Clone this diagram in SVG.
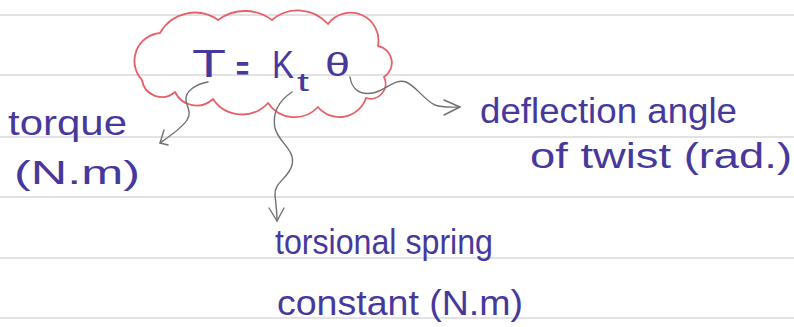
<svg xmlns="http://www.w3.org/2000/svg" width="794" height="327" viewBox="0 0 794 327">
  <defs>
    <style>
      .rule { stroke: #d9d9de; stroke-width: 1.5; }
      .cloud { fill: none; stroke: #e6606a; stroke-width: 1.8; stroke-linejoin: round; }
      .ink { fill: #47399c; font-family: "Liberation Sans", Arial, sans-serif; }
      .lbl { font-size: 35px; }
      .conn { fill: none; stroke: #707070; stroke-width: 1.4; stroke-linecap: round; stroke-linejoin: round; }
    </style>
  </defs>
  <rect width="794" height="327" fill="#ffffff"/>
  <g id="paper-lines">
    <line class="rule" x1="0" y1="15" x2="794" y2="15"/>
    <line class="rule" x1="0" y1="75" x2="794" y2="75"/>
    <line class="rule" x1="0" y1="137" x2="794" y2="137"/>
    <line class="rule" x1="0" y1="197" x2="794" y2="197"/>
    <line class="rule" x1="0" y1="258" x2="794" y2="258"/>
    <line class="rule" x1="0" y1="318" x2="794" y2="318"/>
  </g>
  <g id="node-equation">
    <path class="cloud" d="M160,33 A40 40 0 0 1 218,20 A45 45 0 0 1 272,20 A40 40 0 0 1 328,24 A28 28 0 0 1 378,46 A17 17 0 0 1 384,77 A15 15 0 0 1 366,98 A28 28 0 0 1 318,107 A32 32 0 0 1 268,103 A35 35 0 0 1 213,99 A24 24 0 0 1 175,92 A20 20 0 0 1 142,80 A28 28 0 0 1 160,33 Z"/>
    <text class="ink" x="192" y="77" font-size="38" textLength="34" lengthAdjust="spacingAndGlyphs">T</text>
    <text class="ink" x="236" y="80" font-size="34" font-weight="bold" textLength="13" lengthAdjust="spacingAndGlyphs">=</text>
    <text class="ink" x="272" y="78" font-size="38" textLength="22" lengthAdjust="spacingAndGlyphs">K</text>
    <text class="ink" x="297" y="91" font-size="26" textLength="12" lengthAdjust="spacingAndGlyphs">t</text>
    <text class="ink" x="325" y="76" font-size="34" textLength="25" lengthAdjust="spacingAndGlyphs">θ</text>
  </g>
  <g id="node-torque">
    <text class="ink lbl" x="8" y="135" textLength="119" lengthAdjust="spacingAndGlyphs">torque</text>
    <text class="ink" x="14" y="184" font-size="33" textLength="126" lengthAdjust="spacingAndGlyphs">(N.m)</text>
  </g>
  <g id="node-angle">
    <text class="ink lbl" x="480" y="123" textLength="257" lengthAdjust="spacingAndGlyphs">deflection angle</text>
    <text class="ink lbl" x="530" y="168" textLength="262" lengthAdjust="spacingAndGlyphs">of twist (rad.)</text>
  </g>
  <g id="node-constant">
    <text class="ink lbl" x="275" y="254" textLength="218" lengthAdjust="spacingAndGlyphs">torsional spring</text>
    <text class="ink lbl" x="277" y="315" textLength="246" lengthAdjust="spacingAndGlyphs">constant (N.m)</text>
  </g>
  <g id="connectors">
    <path class="conn" d="M208,82 C195,84 185,92 186,100 C187,108 192,112 187,120 C182,128 170,136 160,143"/>
    <path class="conn" d="M164,130 L160,143 L168,145"/>
    <path class="conn" d="M292,92 C280,100 272,112 275,128 C278,142 296,150 292,165 C289,178 274,182 275,195 C276,205 277,212 277,221"/>
    <path class="conn" d="M269,208 L277,221 L284,208"/>
    <path class="conn" d="M350,77 C352,90 360,95 373,93 C385,91 395,78 406,82 C416,86 424,100 435,105 C443,108 452,107 460,107"/>
    <path class="conn" d="M444,100 L460,107 L444,115"/>
  </g>
</svg>
